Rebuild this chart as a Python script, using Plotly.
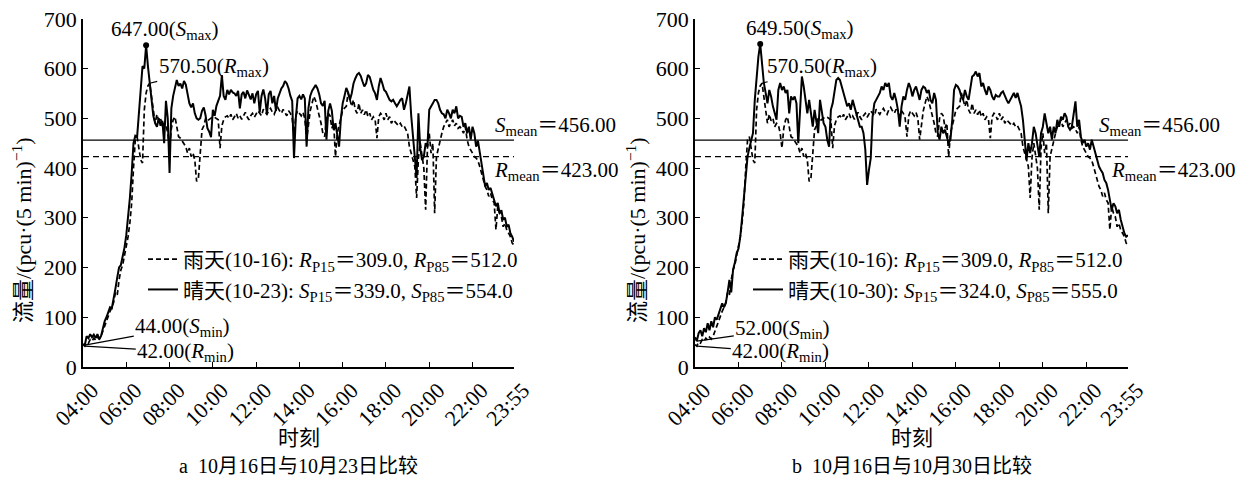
import plotly.graph_objects as go

# ---------------- data (5-min flow, pcu/5min) ----------------
times = [f"{4 + i // 12:02d}:{(i % 12) * 5:02d}" for i in range(240)]
tick_labels = ["04:00", "06:00", "08:00", "10:00", "12:00", "14:00",
               "16:00", "18:00", "20:00", "22:00", "23:55"]

rain_1016 = [
    45, 42, 50, 48, 55, 52, 58, 54, 60, 56, 62, 72,
    82, 95, 105, 112, 120, 130, 150, 145, 175, 195, 205, 225,
    240, 262, 290, 330, 400, 457, 463, 443, 416, 410, 517, 551,
    565, 570.5, 540, 517, 490, 508, 495, 500, 483, 490, 487, 470,
    440, 480, 497, 503, 480, 463, 460, 455, 450, 443, 430, 440,
    423, 430, 416, 373, 380, 440, 477, 485, 500, 495, 498, 500,
    503, 502, 500, 497, 440, 485, 497, 503, 505, 500, 508, 497,
    503, 510, 500, 505, 498, 507, 512, 503, 497, 505, 510, 502,
    508, 515, 510, 505, 518, 512, 508, 515, 520, 512, 508, 517,
    522, 515, 510, 518, 512, 505, 515, 510, 500, 463, 505, 515,
    510, 505, 512, 500, 457, 490, 515, 530, 544, 535, 520, 510,
    490, 470, 463, 500, 510, 505, 480, 490, 423, 470, 483, 500,
    517, 520, 524, 551, 537, 524, 537, 517, 510, 530, 510, 517,
    507, 517, 503, 510, 497, 503, 497, 460, 503, 510, 505, 497,
    510, 497, 503, 490, 497, 493, 490, 485, 490, 483, 485, 477,
    470, 443, 430, 416, 403, 340, 420, 450, 423, 400, 316, 440,
    470, 430, 450, 309, 423, 440, 457, 470, 483, 490, 497, 483,
    490, 497, 485, 490, 480, 483, 478, 470, 483, 457, 443, 436,
    430, 423, 420, 415, 403, 390, 376, 363, 356, 343, 350, 336,
    330, 276, 323, 309, 302, 282, 289, 275, 269, 262, 249, 245,
]

sunny_1023 = [
    46, 44, 62, 58, 66, 60, 65, 58, 66, 56, 62, 80,
    92, 100, 112, 120, 118, 135, 158, 180, 200, 205, 220, 240,
    265, 300, 340, 390, 450, 465, 462, 510, 560, 605, 600, 647,
    605, 572, 530, 505, 490, 483, 500, 485, 495, 450, 535, 500,
    390, 520, 545, 565, 577, 565, 570, 560, 575, 568, 552, 530,
    522, 530, 510, 500, 497, 500, 515, 522, 505, 480, 473, 462,
    517, 505, 525, 537, 545, 587, 545, 537, 557, 548, 557, 552,
    550, 545, 555, 520, 548, 553, 540, 556, 545, 538, 550, 530,
    548, 555, 512, 545, 558, 540, 508, 548, 555, 530, 545, 515,
    540, 550, 560, 565, 575, 570, 560, 545, 535, 420, 500, 540,
    545, 538, 548, 540, 443, 520, 545, 555, 560, 567, 560, 548,
    530, 525, 535, 457, 515, 530, 515, 477, 490, 463, 443, 500,
    530, 545, 561, 552, 537, 550, 570, 580, 588, 591, 585, 574,
    564, 570, 587, 583, 570, 557, 550, 537, 564, 581, 570, 557,
    553, 545, 537, 534, 537, 530, 524, 530, 537, 540, 517, 530,
    544, 564, 505, 457, 420, 380, 510, 440, 416, 423, 450, 443,
    517, 525, 530, 537, 537, 530, 517, 510, 508, 500, 517, 510,
    500, 517, 510, 524, 500, 505, 503, 483, 490, 470, 483, 457,
    483, 470, 443, 455, 430, 403, 383, 363, 370, 356, 360, 349,
    336, 323, 330, 309, 315, 296, 300, 282, 286, 269, 262, 252,
]

sunny_1030 = [
    60, 52, 68, 74, 62, 78, 70, 88, 74, 92, 80, 100,
    95, 105, 118, 128, 120, 128, 150, 175, 150, 195, 210, 229,
    238, 262, 300, 340, 372, 423, 440, 457, 470, 537, 584, 624,
    649.5, 604, 571, 551, 530, 557, 544, 524, 510, 497, 557, 571,
    557, 564, 551, 557, 510, 544, 537, 544, 530, 450, 517, 584,
    564, 537, 510, 537, 503, 483, 517, 497, 470, 537, 517, 490,
    483, 457, 443, 517, 530, 551, 577, 581, 577, 564, 551, 537,
    524, 530, 517, 537, 524, 510, 497, 483, 483, 470, 437, 366,
    396, 420, 503, 530, 537, 544, 551, 564, 557, 571, 564, 571,
    544, 537, 551, 537, 517, 483, 524, 544, 537, 557, 571, 561,
    544, 557, 564, 551, 537, 557, 564, 561, 551, 557, 537, 530,
    551, 537, 470, 457, 483, 470, 477, 463, 450, 457, 497, 557,
    567, 564, 557, 544, 537, 557, 544, 537, 564, 584, 587, 594,
    584, 591, 564, 571, 557, 547, 564, 557, 544, 537, 547, 544,
    544, 551, 554, 544, 537, 530, 537, 547, 551, 541, 551, 537,
    524, 497, 450, 416, 450, 430, 450, 483, 470, 450, 423, 470,
    483, 510, 490, 470, 483, 457, 483, 470, 497, 483, 503, 497,
    510, 503, 483, 477, 483, 510, 534, 483, 497, 463, 450, 457,
    443, 450, 437, 457, 443, 430, 416, 403, 396, 390, 376, 370,
    356, 336, 316, 329, 323, 309, 316, 296, 282, 269, 262, 265,
]

assert len(rain_1016) == len(sunny_1023) == len(sunny_1030) == 240

R_MEAN = 423.00
S_MEAN = 456.00
rain_p15, rain_p85 = 309.0, 512.0
panels = [
    dict(sunny=sunny_1023, day="10-23", p15=339.0, p85=554.0,
         caption="a  10月16日与10月23日比较"),
    dict(sunny=sunny_1030, day="10-30", p15=324.0, p85=555.0,
         caption="b  10月16日与10月30日比较"),
]

# ---------------- layout geometry ----------------
W, H = 1238, 480
FONT = "Liberation Serif, Noto Sans CJK SC, serif"
X_DOMAINS = [(83, 514), (695, 1128)]
Y_TOP, Y_BOT = 18.8, 367


def px(x):
    return x / W


def py(y):
    return 1 - y / H


def argmax(v):
    return max(range(len(v)), key=lambda i: v[i])


def argmin(v):
    return min(range(len(v)), key=lambda i: v[i])


fig = go.Figure()
annotations = []
shapes = []

for k, p in enumerate(panels):
    sfx = "" if k == 0 else str(k + 1)
    xa, ya = "x" + sfx, "y" + sfx
    leg = "legend" + sfx
    sunny = p["sunny"]

    fig.add_trace(go.Scatter(
        x=times, y=rain_1016, mode="lines", xaxis=xa, yaxis=ya, legend=leg,
        line=dict(color="black", width=1.7, dash="5px,3px"),
        name=f"雨天(10-16): <i>R</i><sub>P15</sub>＝{rain_p15:.1f}, "
             f"<i>R</i><sub>P85</sub>＝{rain_p85:.1f}"))
    fig.add_trace(go.Scatter(
        x=times, y=sunny, mode="lines", xaxis=xa, yaxis=ya, legend=leg,
        line=dict(color="black", width=2),
        name=f"晴天({p['day']}): <i>S</i><sub>P15</sub>＝{p['p15']:.1f}, "
             f"<i>S</i><sub>P85</sub>＝{p['p85']:.1f}"))

    # max point dot
    i_smax = argmax(sunny)
    fig.add_trace(go.Scatter(
        x=[times[i_smax]], y=[sunny[i_smax]], mode="markers", xaxis=xa,
        yaxis=ya, showlegend=False, marker=dict(color="black", size=6)))

    x0, x1 = X_DOMAINS[k]
    dom = [px(x0), px(x1)]
    ax_common = dict(
        showline=True, linecolor="black", linewidth=1.5, ticks="inside",
        ticklen=5, tickcolor="black", tickwidth=1.3, showgrid=False,
        zeroline=False, automargin=False,
        tickfont=dict(family=FONT, size=22, color="black"))
    fig.layout["xaxis" + sfx] = dict(
        domain=dom, type="category", categoryorder="array",
        categoryarray=times, range=[0, 239], tickmode="array",
        tickvals=tick_labels, ticktext=tick_labels, tickangle=-45,
        ticklabelshift=9, anchor=ya, **ax_common)
    fig.layout["yaxis" + sfx] = dict(
        domain=[py(Y_BOT), py(Y_TOP)], range=[0, 700], dtick=100,
        anchor=xa, **ax_common)

    # mean lines
    shapes.append(dict(type="line", xref=xa + " domain", yref=ya, x0=0, x1=1,
                       y0=S_MEAN, y1=S_MEAN, line=dict(color="black", width=1.2)))
    shapes.append(dict(type="line", xref=xa + " domain", yref=ya, x0=0, x1=1,
                       y0=R_MEAN, y1=R_MEAN,
                       line=dict(color="black", width=1.2, dash="6px,4px")))

    f = dict(family=FONT, size=21, color="black")
    s_lab_x = [493, 1097][k]
    r_lab_x = [492, 1109][k]
    annotations += [
        dict(xref="paper", yref=ya, x=px(s_lab_x), y=S_MEAN, xanchor="left",
             yanchor="middle", yshift=14, showarrow=False, font=f,
             text=f"<i>S</i><sub>mean</sub>＝{S_MEAN:.2f}"),
        dict(xref="paper", yref=ya, x=px(r_lab_x), y=R_MEAN, xanchor="left",
             yanchor="middle", yshift=-14, showarrow=False, font=f,
             text=f"<i>R</i><sub>mean</sub>＝{R_MEAN:.2f}"),
    ]

    # max / min labels
    i_rmax = argmax(rain_1016)
    i_smin = argmin(sunny)
    i_rmin = argmin(rain_1016)
    smax_cx = [165, 800][k]
    rmax_off = [(64, -16), (60, -16)][k]
    smin_off = [(98, -18), (86, -12)][k]
    rmin_off = [(101, 6), (84, 6)][k]
    annotations += [
        dict(xref="paper", yref=ya, x=px(smax_cx), y=sunny[i_smax],
             xanchor="center", yanchor="middle", yshift=15, showarrow=False,
             font=f, text=f"{sunny[i_smax]:.2f}(<i>S</i><sub>max</sub>)"),
        dict(xref=xa, yref=ya, x=times[i_rmax], y=rain_1016[i_rmax],
             ax=rmax_off[0], ay=rmax_off[1], showarrow=True, arrowhead=0,
             arrowwidth=1.2, arrowcolor="black", font=f,
             text=f"{rain_1016[i_rmax]:.2f}(<i>R</i><sub>max</sub>)"),
        dict(xref=xa, yref=ya, x=times[i_smin], y=sunny[i_smin],
             ax=smin_off[0], ay=smin_off[1], showarrow=True, arrowhead=0,
             arrowwidth=1.2, arrowcolor="black", font=f,
             text=f"{sunny[i_smin]:.2f}(<i>S</i><sub>min</sub>)"),
        dict(xref=xa, yref=ya, x=times[i_rmin], y=rain_1016[i_rmin],
             ax=rmin_off[0], ay=rmin_off[1], showarrow=True, arrowhead=0,
             arrowwidth=1.2, arrowcolor="black", font=f,
             text=f"{rain_1016[i_rmin]:.2f}(<i>R</i><sub>min</sub>)"),
    ]

    # axis titles and caption
    cx = (x0 + x1) / 2
    annotations += [
        dict(xref="paper", yref="paper", x=px(cx), y=py(438), showarrow=False,
             xanchor="center", yanchor="middle",
             font=dict(family=FONT, size=21, color="black"), text="时刻"),
        dict(xref="paper", yref="paper", x=px(cx), y=py(466), showarrow=False,
             xanchor="center", yanchor="middle",
             font=dict(family=FONT, size=20, color="black"), text=p["caption"]),
        dict(xref="paper", yref="paper", x=px([22, 636][k]), y=py(230),
             showarrow=False, textangle=-90, xanchor="center", yanchor="middle",
             font=dict(family=FONT, size=22, color="black"),
             text="流量/(pcu·(5 min)<sup>−1</sup>)"),
    ]

    fig.layout[leg] = dict(
        x=px([143, 748][k]), y=py(239), xanchor="left", yanchor="top",
        bgcolor="rgba(0,0,0,0)", borderwidth=0, tracegroupgap=0,
        font=dict(family=FONT, size=21, color="black"))

fig.update_layout(
    width=W, height=H, margin=dict(l=0, r=0, t=0, b=0, autoexpand=False),
    paper_bgcolor="white", plot_bgcolor="white",
    annotations=annotations, shapes=shapes, showlegend=True,
    font=dict(family=FONT, color="black"),
)

fig.write_html("out.html")
